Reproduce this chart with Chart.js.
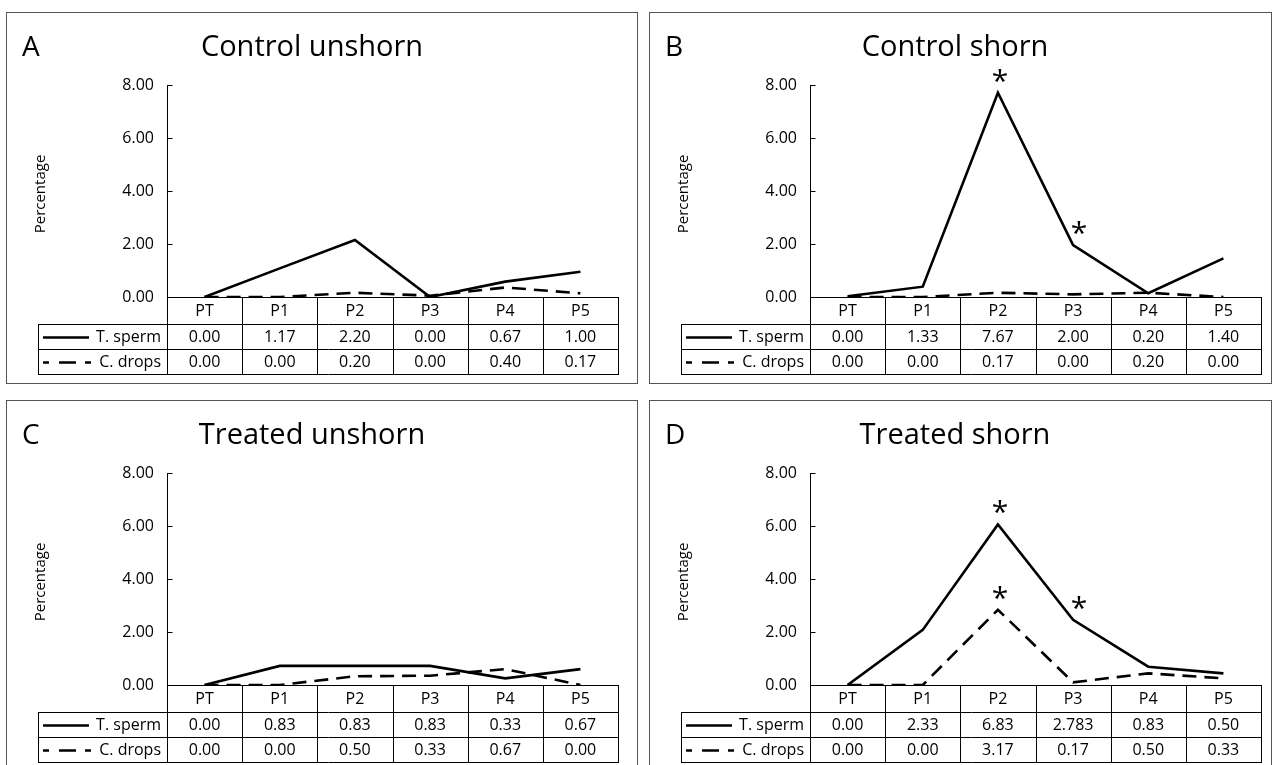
<!DOCTYPE html>
<html>
<head>
<meta charset="utf-8">
<script src="https://cdn.jsdelivr.net/npm/chart.js@4.4.0/dist/chart.umd.min.js"></script>
<style>
  html, body { margin: 0; padding: 0; background: #fff; overflow: hidden; }
  body { width: 1276px; height: 765px; position: relative; }
  .panel { position: absolute; border: 1px solid #555; box-sizing: border-box; background: #fff; }
  .panel canvas { position: absolute; left: 0; top: 0; }
</style>
</head>
<body>
<div class="panel" style="left:6px;top:12px;width:632px;height:372px"><canvas id="cA" width="630" height="370"></canvas></div>
<div class="panel" style="left:649px;top:12px;width:623px;height:372px"><canvas id="cB" width="621" height="370"></canvas></div>
<div class="panel" style="left:6px;top:400px;width:632px;height:372px"><canvas id="cC" width="630" height="370"></canvas></div>
<div class="panel" style="left:649px;top:400px;width:623px;height:372px"><canvas id="cD" width="621" height="370"></canvas></div>

<script>
const categories = ["PT", "P1", "P2", "P3", "P4", "P5"];
const seriesNames = ["T. sperm", "C. drops"];
const yTicks = [0, 2, 4, 6, 8];

// values as the lines are drawn
const spermA = [0, 1.08, 2.15, 0, 0.58, 0.95];
const dropsA = [0, 0, 0.16, 0.05, 0.36, 0.14];
const spermB = [0.03, 0.39, 7.71, 1.96, 0.14, 1.46];
const dropsB = [0, 0, 0.16, 0.1, 0.16, 0];
const spermC = [0, 0.72, 0.72, 0.72, 0.25, 0.6];
const dropsC = [0, 0, 0.33, 0.35, 0.6, 0];
const spermD = [0, 2.08, 6.06, 2.46, 0.69, 0.44];
const dropsD = [0, 0, 2.84, 0.1, 0.44, 0.25];

// values printed in the tables under each plot
const spermTextA = ["0.00", "1.17", "2.20", "0.00", "0.67", "1.00"];
const dropsTextA = ["0.00", "0.00", "0.20", "0.00", "0.40", "0.17"];
const spermTextB = ["0.00", "1.33", "7.67", "2.00", "0.20", "1.40"];
const dropsTextB = ["0.00", "0.00", "0.17", "0.00", "0.20", "0.00"];
const spermTextC = ["0.00", "0.83", "0.83", "0.83", "0.33", "0.67"];
const dropsTextC = ["0.00", "0.00", "0.50", "0.33", "0.67", "0.00"];
const spermTextD = ["0.00", "2.33", "6.83", "2.783", "0.83", "0.50"];
const dropsTextD = ["0.00", "0.00", "3.17", "0.17", "0.50", "0.33"];

// significant points: [series, category index]
const starsB = [[0, 2], [0, 3]];
const starsD = [[0, 2], [1, 2], [0, 3]];

const panels = [
  { id: "cA", letter: "A", title: "Control unshorn", sperm: spermA, drops: dropsA, spermText: spermTextA, dropsText: dropsTextA, stars: [] },
  { id: "cB", letter: "B", title: "Control shorn", sperm: spermB, drops: dropsB, spermText: spermTextB, dropsText: dropsTextB, stars: starsB },
  { id: "cC", letter: "C", title: "Treated unshorn", sperm: spermC, drops: dropsC, spermText: spermTextC, dropsText: dropsTextC, stars: [] },
  { id: "cD", letter: "D", title: "Treated shorn", sperm: spermD, drops: dropsD, spermText: spermTextD, dropsText: dropsTextD, stars: starsD },
];

Chart.defaults.font.family = "'Open Sans', sans-serif";
Chart.defaults.color = "#000";

const FONT = "'Open Sans', sans-serif";
const DASH = [14, 8];

const tablePlugin = {
  id: "tablePlugin",
  afterDraw(chart) {
    const p = chart.options.plugins.tablePlugin.panel;
    const ctx = chart.ctx;
    const ca = chart.chartArea;
    const xs = chart.scales.x;
    const ys = chart.scales.y;
    const colW = (ca.right - ca.left) / categories.length;
    const y0 = Math.round(ys.getPixelForValue(0));
    const rows = [y0, y0 + 27, y0 + 52, y0 + 77];
    const legendLeft = 31;
    const L = Math.round(ca.left) + 0.5;
    const R = Math.round(ca.right) + 0.5;

    ctx.save();
    ctx.strokeStyle = "#000";
    ctx.lineWidth = 1;

    // inner tick marks on the y axis
    ctx.beginPath();
    yTicks.forEach((v) => {
      const yy = Math.round(ys.getPixelForValue(v)) + 0.5;
      ctx.moveTo(L, yy);
      ctx.lineTo(L + 5, yy);
    });
    ctx.stroke();

    // table grid
    ctx.beginPath();
    ctx.moveTo(L, rows[0] + 0.5); ctx.lineTo(R, rows[0] + 0.5);
    for (let r = 1; r < 4; r++) {
      ctx.moveTo(legendLeft + 0.5, rows[r] + 0.5);
      ctx.lineTo(R, rows[r] + 0.5);
    }
    ctx.moveTo(legendLeft + 0.5, rows[1]); ctx.lineTo(legendLeft + 0.5, rows[3] + 1);
    for (let i = 0; i <= categories.length; i++) {
      const xx = Math.round(ca.left + colW * i) + 0.5;
      ctx.moveTo(xx, rows[0]); ctx.lineTo(xx, rows[3] + 1);
    }
    ctx.stroke();

    // table text
    ctx.fillStyle = "#000";
    ctx.font = "16px " + FONT;
    ctx.textAlign = "center";
    ctx.textBaseline = "middle";
    const mid = (a, b) => (rows[a] + rows[b]) / 2 + 1;
    categories.forEach((c, i) => {
      const cx = xs.getPixelForValue(i);
      ctx.fillText(c, cx, mid(0, 1));
      ctx.fillText(p.spermText[i], cx, mid(1, 2));
      ctx.fillText(p.dropsText[i], cx, mid(2, 3));
    });

    // legend cells
    ctx.textAlign = "right";
    ctx.fillText(seriesNames[0], ca.left - 6, mid(1, 2));
    ctx.fillText(seriesNames[1], ca.left - 6, mid(2, 3));
    ctx.lineWidth = 2.6;
    const ls = legendLeft + 5;
    ctx.beginPath();
    ctx.moveTo(ls, mid(1, 2)); ctx.lineTo(ls + 46, mid(1, 2));
    ctx.stroke();
    ctx.beginPath();
    [[0, 6], [16, 33], [42, 48]].forEach(([a, b]) => {
      ctx.moveTo(ls + a, mid(2, 3)); ctx.lineTo(ls + b, mid(2, 3));
    });
    ctx.stroke();

    // letter, title, axis title
    ctx.textBaseline = "middle";
    ctx.textAlign = "left";
    ctx.font = "28px " + FONT;
    ctx.fillText(p.letter, 15, 35);
    ctx.textAlign = "center";
    ctx.font = "29px " + FONT;
    ctx.fillText(p.title, 305, 35);
    ctx.save();
    ctx.translate(34, 181);
    ctx.rotate(-Math.PI / 2);
    ctx.font = "15px " + FONT;
    ctx.fillText("Percentage", 0, 0);
    ctx.restore();

    // asterisks
    ctx.font = "30px " + FONT;
    ctx.textBaseline = "alphabetic";
    p.stars.forEach(([s, i]) => {
      const data = s === 0 ? p.sperm : p.drops;
      const px = xs.getPixelForValue(i) + (i === 3 ? 6 : 2);
      const py = ys.getPixelForValue(data[i]) - 20;
      ctx.fillText("*", px, py + 18);
    });
    ctx.restore();
  },
};

panels.forEach((p) => {
  const canvas = document.getElementById(p.id);
  new Chart(canvas, {
    type: "line",
    data: {
      labels: categories,
      datasets: [
        { label: seriesNames[0], data: p.sperm, borderColor: "#000", borderWidth: 2.6, pointRadius: 0, tension: 0 },
        { label: seriesNames[1], data: p.drops, borderColor: "#000", borderWidth: 2.6, borderDash: DASH, pointRadius: 0, tension: 0 },
      ],
    },
    options: {
      responsive: false,
      animation: false,
      devicePixelRatio: 1,
      layout: { padding: { left: 0, top: 72, right: canvas.width - 611, bottom: canvas.height - 284 } },
      plugins: {
        legend: { display: false },
        tooltip: { enabled: false },
        tablePlugin: { panel: p },
      },
      scales: {
        x: { display: false, offset: true },
        y: {
          min: 0,
          max: 8,
          afterFit: (scale) => { scale.width = 160; },
          afterBuildTicks: (scale) => { scale.ticks = yTicks.map((v) => ({ value: v })); },
          ticks: { callback: (v) => Number(v).toFixed(2), font: { size: 16 }, color: "#000", padding: 13 },
          grid: { display: false, drawTicks: false },
          border: { display: true, color: "#000", width: 1 },
        },
      },
    },
    plugins: [tablePlugin],
  });
});
</script>
</body>
</html>
